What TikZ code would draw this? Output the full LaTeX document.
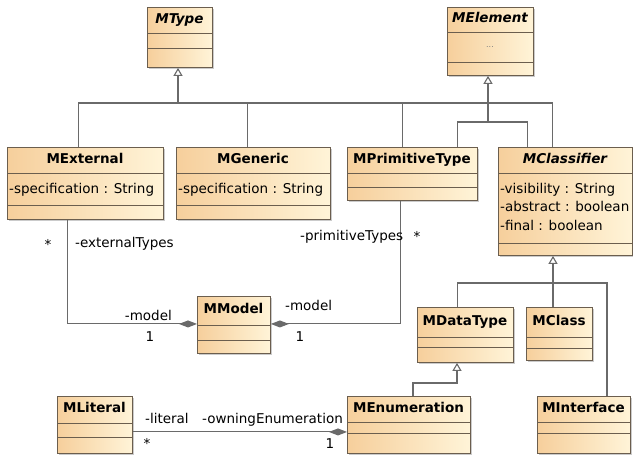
\documentclass[tikz,border=0pt]{standalone}
\usepackage{fontspec}
\setmainfont{DejaVu Sans}
\usetikzlibrary{positioning,arrows.meta,shadows}
\definecolor{clsL}{HTML}{F6CF9C}
\definecolor{clsR}{HTML}{FFF4D8}
\definecolor{boxline}{HTML}{6B5E4E}
\definecolor{linkgray}{HTML}{6A6A6A}
\newcommand{\ufont}{\fontsize{13.5}{18.5}\selectfont}
\tikzset{
  classbox/.style={draw=boxline,line width=0.9pt,left color=clsL,right color=clsR,inner sep=0,
    drop shadow={shadow xshift=2pt,shadow yshift=-2pt,fill=black!40}},
  seprule/.style={draw=boxline,line width=0.8pt},
  ctitle/.style={font=\ufont\bfseries,inner sep=0,text height=10pt,text depth=3pt},
  cattr/.style={font=\ufont,inner sep=0,align=left,anchor=north west},
  link/.style={draw=linkgray,line width=1.1pt},
  inherit/.style={link,-{Triangle[open,length=8pt,width=9pt]}},
  owned/.style={link,-{Diamond[length=18pt,width=7pt]}},
  role/.style={font=\ufont,inner sep=0,text height=10pt,text depth=3pt},
  mult/.style={font=\ufont,inner sep=0},
}
\newcommand{\uclass}[8]{% name, left, top, width, height, first rule, second rule, title
  \node[classbox,minimum width=#4pt,minimum height=#5pt,anchor=north west] (#1) at (#2,#3) {};
  \draw[seprule] (#2,#3+#6) -- (#2+#4,#3+#6);
  \draw[seprule] (#2,#3+#7) -- (#2+#4,#3+#7);
  \node[ctitle] (#1-t) at (#2+#4/2,#3+#6/2) {#8};}

\begin{document}
\begin{tikzpicture}[x=1pt,y=-1pt,>=stealth]
  \path[use as bounding box,fill=white] (0,0) rectangle (633,457);
  % abstract roots
  \uclass{mtype}{147}{7}{65}{60}{26}{41}{\itshape MType}
  \uclass{melem}{447}{7}{86}{68}{25}{55}{\itshape MElement}
  \node[font=\footnotesize,text=black!50,inner sep=0] (melem-a) at (490,47) {...};
  % type classes
  \uclass{mext}{7}{147}{156}{72}{26}{58}{MExternal}
  \node[cattr] (mext-a) at (9,183) {-specification : String};
  \uclass{mgen}{176}{147}{154}{72}{26}{58}{MGeneric}
  \node[cattr] (mgen-a) at (178,183) {-specification : String};
  \uclass{mprim}{347}{147}{130}{53}{26}{40}{MPrimitiveType}
  \uclass{mclsf}{498}{147}{134}{108}{26}{96}{\itshape MClassifier}
  \node[cattr] (mclsf-a) at (500,183) {-visibility : String\\-abstract : boolean\\-final : boolean};
  % lower row
  \uclass{mmodel}{197}{296}{73}{57}{29}{44}{MModel}
  \uclass{mdt}{417}{307}{96}{55}{30}{40}{MDataType}
  \uclass{mcls}{526}{307}{66}{53}{30}{41}{MClass}
  \uclass{mlit}{57}{396}{75}{57}{27}{41}{MLiteral}
  \uclass{menum}{347}{396}{123}{57}{26}{37}{MEnumeration}
  \uclass{mintf}{537}{396}{93}{57}{26}{37}{MInterface}

  % generalisation trees
  \coordinate (typejoin) at (178,103);
  \coordinate (elemjoin) at (488,122);
  \coordinate (clsfjoin) at (553,283);
  \coordinate (dtjoin) at (457,383);
  \draw[link] ([xshift=-7pt]mext.north) |- (typejoin) -| ([xshift=-13pt]mclsf.north);
  \draw[link] ([xshift=-6pt]mgen.north) |- (typejoin);
  \draw[link] ([xshift=-10pt]mprim.north) |- (typejoin);
  \draw[inherit] (typejoin) -- (typejoin |- mtype.south);
  \draw[link] ([xshift=45pt]mprim.north) |- (elemjoin) -| ([xshift=-38pt]mclsf.north);
  \draw[inherit] (elemjoin) -- (elemjoin |- melem.south);
  \draw[link] ([xshift=-8pt]mdt.north) |- (clsfjoin) -| ([xshift=23pt]mintf.north);
  \draw[link] (mcls.north -| clsfjoin) -- (clsfjoin);
  \draw[inherit] (clsfjoin) -- (clsfjoin |- mclsf.south);
  \draw[inherit] ([xshift=4pt]menum.north) |- (dtjoin) -- (dtjoin |- mdt.south);

  % compositions
  \draw[owned] ([xshift=-18pt]mext.south) |- ([yshift=1pt]mmodel.west);
  \draw[owned] ([xshift=-12pt]mprim.south) |- ([yshift=1pt]mmodel.east);
  \draw[owned] ([yshift=-7pt]mlit.east) -- ([yshift=-7pt]menum.west);

  % role names and multiplicities
  \node[mult] (extmult) at (48,244) {*};
  \node[role,anchor=west] (extrole) at (75,244) {-externalTypes};
  \node[role,anchor=west] (primrole) at (300,237) {-primitiveTypes};
  \node[mult] (primmult) at (417,236) {*};
  \node[role,anchor=east] (lmodel) at (172,317) {-model};
  \node[mult] (lmodelmult) at (150,337) {1};
  \node[role,anchor=west] (rmodel) at (285,307) {-model};
  \node[mult] (rmodelmult) at (300,337) {1};
  \node[role,anchor=west] (litrole) at (145,420) {-literal};
  \node[role,anchor=west] (ownrole) at (202,420) {-owningEnumeration};
  \node[mult] (litmult) at (147,443) {*};
  \node[mult] (enummult) at (330,444) {1};
\end{tikzpicture}
\end{document}
